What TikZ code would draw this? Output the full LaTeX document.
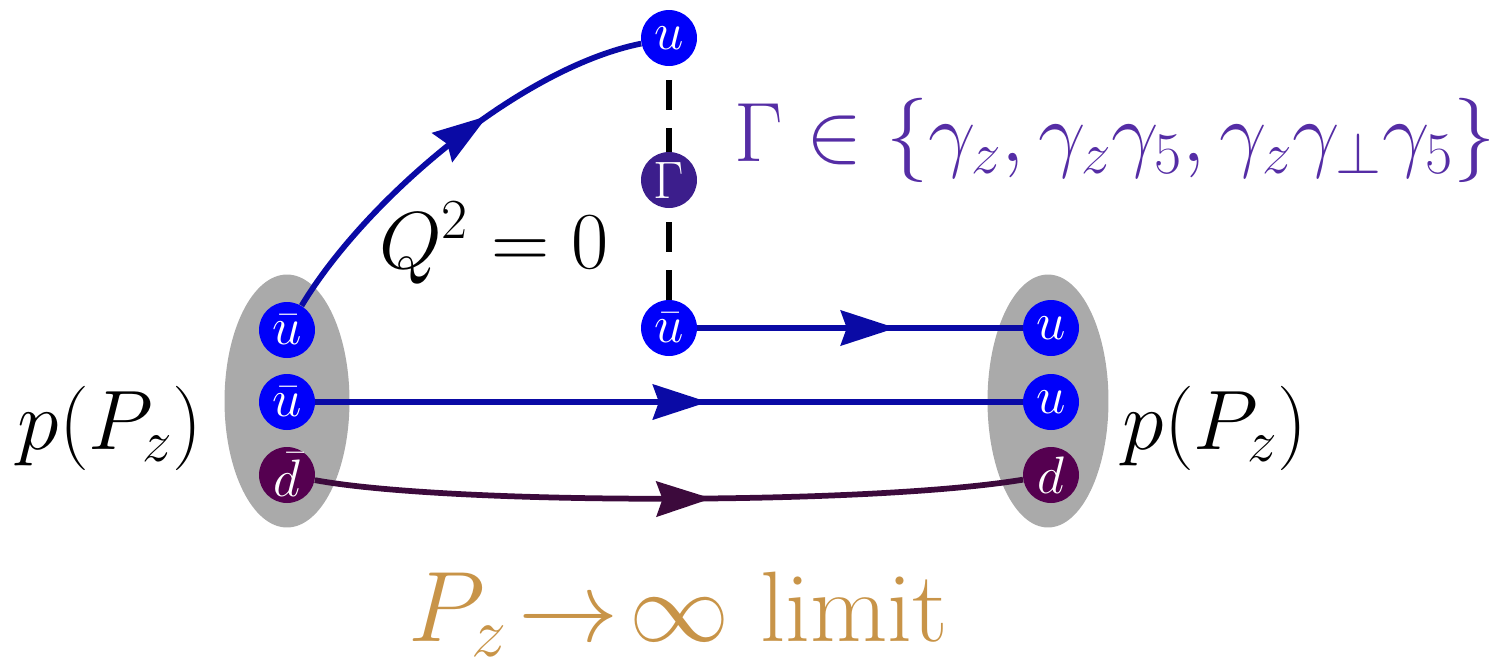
\RequirePackage{fix-cm}
\documentclass[tikz,border=0pt]{standalone}
\usetikzlibrary{arrows.meta,decorations.markings,shapes.geometric}
\definecolor{qblue}{RGB}{0,0,250}
\definecolor{lblue}{RGB}{10,10,165}
\definecolor{dpurple}{RGB}{85,0,80}
\definecolor{dline}{RGB}{60,10,60}
\definecolor{gpurple}{RGB}{60,30,140}
\definecolor{tpurple}{RGB}{85,45,165}
\definecolor{gold}{RGB}{200,148,72}
\definecolor{ellgray}{RGB}{170,170,170}
\begin{document}
\begin{tikzpicture}[x=0.02cm,y=-0.02cm,
  quark/.style={circle,inner sep=0pt,minimum size=1.12cm,fill=#1,text=white,font=\fontsize{30}{30}\selectfont},
  had/.style={ellipse,fill=ellgray,inner sep=0pt,minimum width=2.5cm,minimum height=5.06cm},
  qline/.style={line width=0.115cm,draw=#1},
  midarrow/.style={postaction={decorate},decoration={markings,mark=at position #1 with {\arrow{Stealth[length=1.1cm,width=0.7cm,inset=0.12cm]}}}},
  bigtext/.style={inner sep=0pt,font=\fontsize{48}{52}\selectfont},
  dashline/.style={line width=0.12cm,dash pattern=on 0.6cm off 0.36cm,dash phase=0.68cm}
]
\useasboundingbox (0,0) rectangle (1499,667);
\node[had] (hL) at (287,401) {};
\node[had,minimum width=2.42cm] (hR) at (1048,401) {};
\node[quark=qblue] (uL1) at (287,330) {$\bar u$};
\node[quark=qblue] (uL2) at (287,402) {$\bar u$};
\node[quark=dpurple] (dL) at (287,475) {$\bar d$};
\node[quark=qblue] (uR1) at (1051,328) {$u$};
\node[quark=qblue] (uR2) at (1051,402) {$u$};
\node[quark=dpurple] (dR) at (1051,475) {$d$};
\node[quark=qblue] (uT) at (669,38) {$u$};
\node[quark=gpurple] (G) at (669,180) {$\Gamma$};
\node[quark=qblue] (uM) at (669,328) {$\bar u$};
\draw[dashline] (uT) -- (G);
\draw[dashline] (G) -- (uM);
\draw[qline=lblue,midarrow=0.61] (uL1) .. controls (365,200) and (520,68) .. (uT);
\draw[qline=lblue,midarrow=0.61] (uM) -- (uR1);
\draw[qline=lblue,midarrow=0.555] (uL2) -- (uR2);
\draw[qline=dline,midarrow=0.56] (dL) .. controls (450,505) and (870,505) .. (dR);
\node[bigtext] (pL) at (110,428) {$p(P_z)$};
\node[bigtext] (pR) at (1215,428) {$p(P_z)$};
\node[bigtext,font=\fontsize{46}{50}\selectfont] (Q) at (494,243) {$Q^2=0$};
\node[bigtext,text=tpurple] (Gset) at (1115,140) {$\Gamma\in\{\gamma_z,\gamma_z\gamma_5,\gamma_z\gamma_\perp\gamma_5\}$};
\node[bigtext,text=gold,font=\fontsize{57}{60}\selectfont] (lim) at (678,614) {$P_z\!\rightarrow\!\infty$ limit};
\end{tikzpicture}
\end{document}
